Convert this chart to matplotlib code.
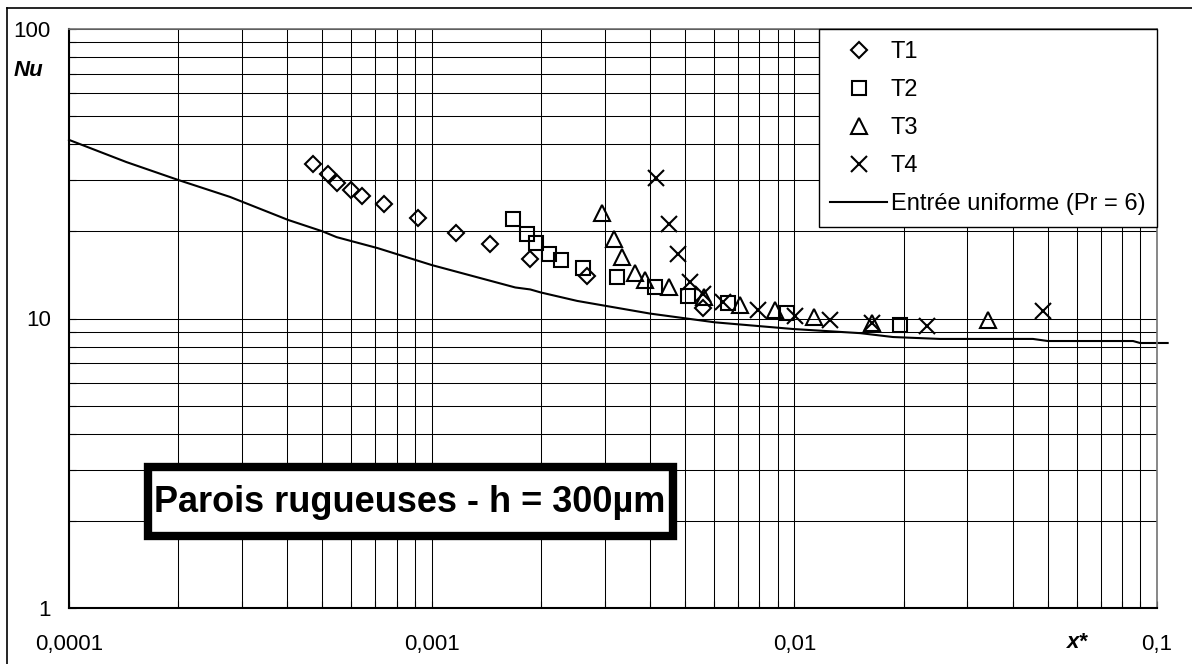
import matplotlib
matplotlib.use('Agg')
import matplotlib.pyplot as plt
from matplotlib.lines import Line2D
from matplotlib.patches import Rectangle
from matplotlib.ticker import FixedLocator, LogLocator, NullFormatter

plt.rcParams['font.family'] = ['Liberation Sans', 'DejaVu Sans']

# T1 .. T4 measurements
x_t1 = [4.71e-4, 5.18e-4, 5.48e-4, 5.99e-4, 6.42e-4, 7.39e-4, 9.17e-4, 1.167e-3, 1.448e-3, 1.866e-3, 2.68e-3, 5.60e-3]
nu_t1 = [34.2, 31.6, 29.4, 27.8, 26.5, 24.9, 22.2, 19.7, 18.1, 16.1, 14.0, 10.9]

x_t2 = [1.676e-3, 1.831e-3, 1.939e-3, 2.106e-3, 2.273e-3, 2.614e-3, 3.243e-3, 4.13e-3, 5.09e-3, 6.56e-3, 9.54e-3, 0.01955]
nu_t2 = [22.1, 19.6, 18.2, 16.7, 15.9, 14.9, 13.9, 12.85, 11.96, 11.3, 10.45, 9.5]

x_t3 = [2.948e-3, 3.18e-3, 3.346e-3, 3.635e-3, 3.874e-3, 4.51e-3, 5.63e-3, 7.08e-3, 8.84e-3, 0.01132, 0.01637, 0.0342]
nu_t3 = [23.1, 18.8, 16.3, 14.4, 13.6, 12.85, 11.87, 11.1, 10.7, 10.1, 9.65, 9.88]

x_t4 = [4.155e-3, 4.51e-3, 4.776e-3, 5.155e-3, 5.60e-3, 6.36e-3, 7.93e-3, 0.01004, 0.01254, 0.01637, 0.02321, 0.04847]
nu_t4 = [30.6, 21.2, 16.7, 13.4, 12.15, 11.4, 10.7, 10.2, 9.88, 9.65, 9.42, 10.6]

# uniform inlet correlation, Pr = 6
x_line = [1.0e-4, 1.44e-4, 2.0e-4, 2.78e-4, 4.02e-4, 5.0e-4, 5.47e-4, 7.1e-4, 1.0e-3, 1.7e-3,
          1.87e-3, 2.0e-3, 2.52e-3, 4.0e-3, 6.04e-3, 9.9e-3, 0.0152, 0.0187, 0.0252, 0.0455,
          0.050, 0.0859, 0.0898, 0.107]
nu_line = [41.4, 34.7, 30.1, 26.3, 21.9, 20.0, 19.1, 17.5, 15.3, 12.8,
           12.6, 12.3, 11.5, 10.4, 9.7, 9.2, 8.9, 8.63, 8.5, 8.5,
           8.36, 8.36, 8.23, 8.23]

x_ticks = [0.0001, 0.001, 0.01, 0.1]
x_labels = ['0,0001', '0,001', '0,01', '0,1']
y_ticks = [1, 10, 100]
y_labels = ['1', '10', '100']

W, H = 1192, 664
fig = plt.figure(figsize=(W / 100, H / 100), dpi=100)
ax = fig.add_axes([69 / W, 1 - 608 / H, (1157 - 69) / W, (608 - 29) / H])

mk = dict(linestyle='none', mfc='none', mec='black', mew=1.5)
ax.plot(x_t1, nu_t1, marker='D', ms=8.5, label='T1', **mk)
ax.plot(x_t2, nu_t2, marker='s', ms=10, label='T2', **mk)
ax.plot(x_t3, nu_t3, marker='^', ms=11, label='T3', **mk)
ax.plot(x_t4, nu_t4, marker='x', ms=11.5, label='T4', **mk)
ax.plot(x_line, nu_line, color='black', lw=1.5, clip_on=False,
        label='Entrée uniforme (Pr = 6)')

ax.set_xscale('log')
ax.set_yscale('log')
ax.set_xlim(0.0001, 0.1)
ax.set_ylim(1, 100)

ax.xaxis.set_major_locator(FixedLocator(x_ticks))
ax.set_xticklabels(x_labels)
ax.yaxis.set_major_locator(FixedLocator(y_ticks))
ax.set_yticklabels(y_labels)
ax.xaxis.set_minor_locator(LogLocator(base=10, subs=range(2, 10)))
ax.yaxis.set_minor_locator(LogLocator(base=10, subs=range(2, 10)))
ax.xaxis.set_minor_formatter(NullFormatter())
ax.yaxis.set_minor_formatter(NullFormatter())

ax.grid(True, which='both', color='black', lw=0.75)
ax.set_axisbelow(True)
ax.tick_params(axis='both', which='both', direction='in', length=5, width=0.8,
               labelsize=16, top=False, right=False)
ax.tick_params(axis='x', which='major', pad=19)
ax.tick_params(axis='y', which='major', pad=13)

for s in ['left', 'bottom']:
    ax.spines[s].set_color('black')
    ax.spines[s].set_linewidth(1.5)
for s in ['top', 'right']:
    ax.spines[s].set_color('0.45')
    ax.spines[s].set_linewidth(1.2)

leg = ax.legend(loc='upper right', bbox_to_anchor=(1, 1), borderaxespad=0,
                fontsize=17, handlelength=2.4, handletextpad=0.15,
                borderpad=0.5, labelspacing=0.68, fancybox=False,
                framealpha=1, edgecolor='black')
leg.get_frame().set_linewidth(1.0)

# annotation box
fig.add_artist(Rectangle((148 / W, 1 - 536 / H), 525 / W, 69 / H,
                         transform=fig.transFigure, fc='white', ec='black',
                         lw=6, zorder=5))
fig.text(410 / W, 1 - 502 / H, 'Parois rugueuses - h = 300µm', fontsize=26,
         fontweight='bold', ha='center', va='center', zorder=6)

fig.text(28 / W, 1 - 70 / H, 'Nu', fontsize=16, fontweight='bold',
         fontstyle='italic', ha='center', va='center')
fig.text(1077 / W, 1 - 643 / H, 'x*', fontsize=16, fontweight='bold',
         fontstyle='italic', ha='center', va='center')

# outer frame (top and left edges visible)
fig.add_artist(Line2D([7 / W, 7 / W], [0, 1 - 8 / H], transform=fig.transFigure,
                      color='black', lw=1.2))
fig.add_artist(Line2D([7 / W, 1], [1 - 8 / H, 1 - 8 / H], transform=fig.transFigure,
                      color='black', lw=1.2))

fig.savefig('out.png', dpi=100)
